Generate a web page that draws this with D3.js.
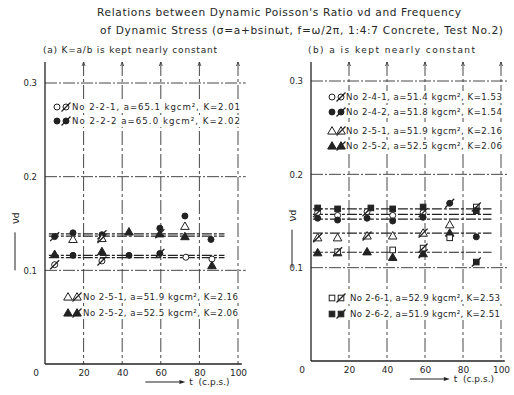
<!DOCTYPE html>
<html><head><meta charset="utf-8">
<script src="https://cdn.jsdelivr.net/npm/d3@7"></script>
<style>
body{margin:0;background:#fff}
svg{display:block}
text{font-family:"DejaVu Sans",sans-serif;fill:#262626}
</style>
</head><body>
<svg id="c" width="514" height="395"></svg>
<script>
// ---------- text ----------
const titleLines = [
  "Relations between Dynamic Poisson's Ratio \u03BDd and Frequency",
  "of Dynamic Stress (\u03C3=a+bsin\u03C9t, f=\u03C9/2\u03C0, 1:4:7 Concrete, Test No.2)"
];
const subtitles = ["(a) K=a/b is kept nearly constant", "(b) a is kept nearly constant"];
const freqTicks = [0, 20, 40, 60, 80, 100];
const ratioTicks = [0.1, 0.2, 0.3];
const xLabel = "t  (c.p.s.)";
const yLabel = "\u03BDd";

// ---------- data: [frequency, nu_d, hatched(1)/plain(0)] ----------
// panel (a)
const a_221 = [[5,0.106,1],[29.5,0.110,1],[73,0.114,0],[86.5,0.112,0]];
const a_222 = [[5,0.136,1],[14.5,0.140,0],[14.5,0.116,0],[29.5,0.138,1],[43.5,0.116,0],[59.5,0.145,0],[59.5,0.118,1],[72.5,0.158,0],[86,0.133,0]];
const a_251 = [[14.5,0.133,0],[29.5,0.134,1],[72.5,0.147,0]];
const a_252 = [[5,0.117,0],[29.5,0.120,0],[43.5,0.141,0],[59.5,0.139,1],[72.5,0.136,0],[86.5,0.105,0]];
const a_means = [0.139, 0.1365, 0.116, 0.1135];
const a_meanRange = [2, 93];
// panel (b)
const b_241 = [[3.5,0.159,1],[14,0.156,0],[29.5,0.160,1],[43,0.156,0],[59,0.159,1]];
const b_242 = [[3.5,0.153,0],[14,0.151,0],[29.5,0.153,0],[43,0.150,0],[59,0.154,0],[73,0.169,1],[87,0.133,0]];
const b_251 = [[3.5,0.132,1],[14,0.132,0],[29.5,0.134,1],[43,0.134,0],[59,0.137,1],[73,0.146,0]];
const b_252 = [[3.5,0.116,0],[14,0.116,0],[29.5,0.117,0],[43,0.111,0],[59,0.115,1],[73,0.137,0]];
const b_261 = [[14,0.117,1],[43,0.119,0],[59,0.121,1],[73,0.132,0],[87,0.165,1]];
const b_262 = [[3.5,0.164,0],[14,0.163,0],[31.5,0.164,0],[43,0.163,0],[59,0.165,0],[87,0.161,0],[87,0.106,1]];
const b_means = [0.163, 0.157, 0.152, 0.137, 0.1165];
const b_meanRange = [1, 95];

// legend texts
const a_legTop = [["circle",0,"No 2-2-1, a=65.1 kgcm\u00B2, K=2.01"],["circle",1,"No 2-2-2  a=65.0 kgcm\u00B2, K=2.02"]];
const a_legBot = [["triangle",0,"No 2-5-1, a=51.9 kgcm\u00B2, K=2.16"],["triangle",1,"No 2-5-2, a=52.5 kgcm\u00B2, K=2.06"]];
const b_legTop = [["circle",0,"No 2-4-1, a=51.4 kgcm\u00B2,  K=1.53"],["circle",1,"No 2-4-2, a=51.8 kgcm\u00B2,  K=1.54"],["triangle",0,"No 2-5-1, a=51.9 kgcm\u00B2,  K=2.16"],["triangle",1,"No 2-5-2, a=52.5 kgcm\u00B2,  K=2.06"]];
const b_legBot = [["square",0,"No 2-6-1,  a=52.9 kgcm\u00B2, K=2.53"],["square",1,"No 2-6-2,  a=51.9 kgcm\u00B2, K=2.51"]];

// ---------- drawing ----------
const svg = d3.select("#c");
const ink = "#222";

svg.append("text").attr("x",97).attr("y",16).attr("font-size",10.6).attr("textLength",364).attr("lengthAdjust","spacing").text(titleLines[0]);
svg.append("text").attr("x",100).attr("y",34).attr("font-size",10.6).attr("textLength",403).attr("lengthAdjust","spacing").text(titleLines[1]);

function marker(g, shape, filled, hatched, x, y) {
  const fill = filled ? ink : "#fff";
  if (shape === "circle") {
    g.append("circle").attr("cx",x).attr("cy",y).attr("r",3).attr("fill",fill).attr("stroke",ink).attr("stroke-width",1);
  } else if (shape === "triangle") {
    g.append("path").attr("transform",`translate(${x},${y+0.6})`).attr("d",d3.symbol(d3.symbolTriangle,32)()).attr("fill",fill).attr("stroke",ink).attr("stroke-width",1);
  } else {
    g.append("rect").attr("x",x-2.8).attr("y",y-2.8).attr("width",5.6).attr("height",5.6).attr("fill",fill).attr("stroke",ink).attr("stroke-width",1);
  }
  if (hatched) {
    g.append("line").attr("x1",x-4.5).attr("y1",y+4.5).attr("x2",x+4.5).attr("y2",y-4.5).attr("stroke",ink).attr("stroke-width",1.3);
  }
}

function panel(cfg) {
  const g = svg.append("g");
  const x = d3.scaleLinear().domain([0,100]).range(cfg.xr);
  const y = d3.scaleLinear().domain([0,0.3]).range(cfg.yr);
  const top = cfg.top;

  // subtitle
  g.append("text").attr("x",cfg.subX).attr("y",cfg.subY).attr("font-size",9).attr("textLength",cfg.subW).attr("lengthAdjust","spacing").text(cfg.sub);

  // vertical grid
  g.selectAll(".vg").data(freqTicks.slice(1)).join("line")
    .attr("x1",d=>x(d)).attr("x2",d=>x(d)).attr("y1",top).attr("y2",y(0))
    .attr("stroke","#333").attr("stroke-width",0.9).attr("stroke-dasharray","14,3,3,3");
  g.selectAll(".vt").data(freqTicks.slice(1)).join("path")
    .attr("d",d=>`M${x(d)-1.5},${top+4}L${x(d)},${top}L${x(d)+1.5},${top+4}`)
    .attr("fill","none").attr("stroke","#333").attr("stroke-width",0.8);
  // horizontal grid
  g.selectAll(".hg").data(ratioTicks).join("line")
    .attr("x1",x(0)).attr("x2",x(104)).attr("y1",d=>y(d)).attr("y2",d=>y(d))
    .attr("stroke","#333").attr("stroke-width",0.9).attr("stroke-dasharray","12,2,2,2");

  // axes
  g.append("line").attr("x1",x(0)).attr("x2",x(0)).attr("y1",top).attr("y2",y(0)).attr("stroke",ink).attr("stroke-width",1.3);
  g.append("line").attr("x1",x(0)).attr("x2",x(102)).attr("y1",y(0)).attr("y2",y(0)).attr("stroke",ink).attr("stroke-width",1.3);

  const ya = d3.axisLeft(y).tickValues(ratioTicks).tickSize(0).tickPadding(8).tickFormat(d3.format(".1f"));
  const yg = g.append("g").attr("transform",`translate(${x(0)},0)`).call(ya);
  yg.select(".domain").remove();
  yg.selectAll("text").attr("font-size",8.5).attr("font-family","DejaVu Sans").attr("fill","#262626");

  const xa = d3.axisBottom(x).tickValues(freqTicks).tickSize(0).tickPadding(6).tickFormat(d3.format("d"));
  const xg = g.append("g").attr("transform",`translate(0,${y(0)})`).call(xa);
  xg.select(".domain").remove();
  xg.selectAll("text").attr("font-size",9).attr("font-family","DejaVu Sans").attr("fill","#262626");
  xg.selectAll(".tick").filter(d=>d===0).attr("transform",`translate(${x(0)-9},0)`);

  // x label
  const lx = x(52), ly = y(0)+21;
  g.append("line").attr("x1",lx).attr("x2",lx+34).attr("y1",ly-3).attr("y2",ly-3).attr("stroke",ink).attr("stroke-width",1);
  g.append("path").attr("d",`M${lx+34},${ly-5}L${lx+40},${ly-3}L${lx+34},${ly-1}Z`).attr("fill",ink);
  g.append("text").attr("x",lx+44).attr("y",ly).attr("font-size",9).attr("xml:space","preserve").text(xLabel);

  // y label (rotated)
  const yx = cfg.yLabX, yy = y(0.1);
  const yl = g.append("g").attr("transform",`translate(${yx},${yy}) rotate(-90)`);
  yl.append("line").attr("x1",0).attr("x2",38).attr("y1",0).attr("y2",0).attr("stroke",ink).attr("stroke-width",1);
  yl.append("text").attr("x",46).attr("y",4).attr("font-size",11).text(yLabel[0]).append("tspan").attr("font-size",9).text(yLabel[1]);

  // mean lines
  g.selectAll(".ml").data(cfg.means).join("line")
    .attr("x1",x(cfg.meanRange[0])).attr("x2",x(cfg.meanRange[1])).attr("y1",d=>y(d)).attr("y2",d=>y(d))
    .attr("stroke",ink).attr("stroke-width",1.2).attr("stroke-dasharray","10,2,3,2");

  // points
  const pg = g.append("g");
  cfg.series.forEach(s => s.data.forEach(p => marker(pg, s.shape, s.filled, p[2], x(p[0]), y(p[1]))));

  // legends
  cfg.legends.forEach(L => {
    L.rows.forEach((r, i) => {
      const ry = L.y + i * L.dy + (L.gap && i >= 2 ? L.gap : 0);
      const t = g.append("text").attr("x",L.x+L.tx).attr("y",ry+3).attr("font-size",8.6)
        .attr("textLength",L.w).attr("lengthAdjust","spacing").text(r[2]);
      const bb = t.node().getBBox();
      g.insert("rect", () => t.node()).attr("x",L.x-6).attr("y",bb.y-1).attr("width",bb.x+bb.width-L.x+8).attr("height",bb.height+2).attr("fill","#fff");
      marker(g, r[0], r[1], 0, L.x, ry);
      marker(g, r[0], r[1], 1, L.x+9, ry);
    });
  });
}

panel({
  xr:[45,238], yr:[364,83], top:62, sub:subtitles[0], subX:43, subY:53, subW:174, yLabX:15,
  means:a_means, meanRange:a_meanRange,
  series:[{shape:"circle",filled:0,data:a_221},{shape:"circle",filled:1,data:a_222},{shape:"triangle",filled:0,data:a_251},{shape:"triangle",filled:1,data:a_252}],
  legends:[{x:57,y:107,dy:14,tx:15,w:168,rows:a_legTop},{x:68,y:297,dy:16,tx:15,w:155,rows:a_legBot}]
});
panel({
  xr:[311,501], yr:[361,81], top:62, sub:subtitles[1], subX:308, subY:53, subW:167, yLabX:292,
  means:b_means, meanRange:b_meanRange,
  series:[{shape:"circle",filled:0,data:b_241},{shape:"circle",filled:1,data:b_242},{shape:"triangle",filled:0,data:b_251},{shape:"triangle",filled:1,data:b_252},{shape:"square",filled:0,data:b_261},{shape:"square",filled:1,data:b_262}],
  legends:[{x:332,y:97,dy:15,gap:4,tx:14,w:156,rows:b_legTop},{x:332,y:298,dy:16,tx:18,w:150,rows:b_legBot}]
});
</script>
</body></html>
